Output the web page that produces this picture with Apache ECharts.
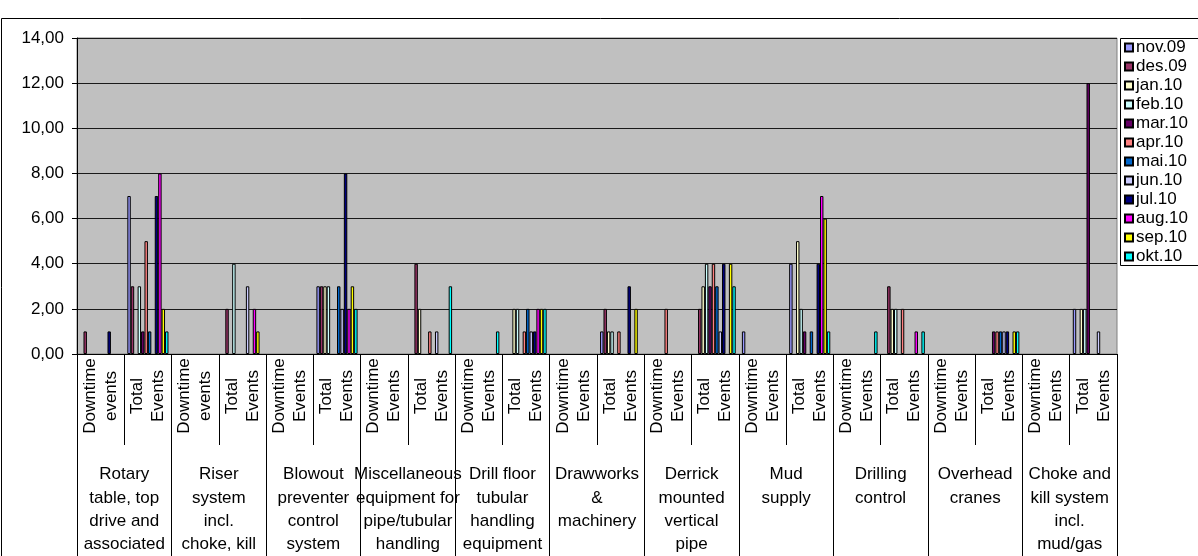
<!DOCTYPE html>
<html>
<head>
<meta charset="utf-8">
<script src="https://cdn.jsdelivr.net/npm/echarts@6/dist/echarts.min.js"></script>
<style>
  html, body { margin: 0; padding: 0; background: #ffffff; }
  #chart { width: 1198px; height: 556px; }
</style>
</head>
<body>
<div id="chart"></div>
<script>
// Equipment groups (lower label row)
const groupLabels = [
  'Rotary\ntable, top\ndrive and\nassociated',
  'Riser\nsystem\nincl.\nchoke, kill',
  'Blowout\npreventer\ncontrol\nsystem',
  'Miscellaneous\nequipment for\npipe/tubular\nhandling',
  'Drill floor\ntubular\nhandling\nequipment',
  'Drawworks\n&\nmachinery',
  'Derrick\nmounted\nvertical\npipe',
  'Mud\nsupply',
  'Drilling\ncontrol',
  'Overhead\ncranes',
  'Choke and\nkill system\nincl.\nmud/gas'
];

// Event-type categories (upper label row), two per group
const categories = [
  'Downtime\nevents', 'Total\nEvents',
  'Downtime\nevents', 'Total\nEvents',
  'Downtime\nEvents', 'Total\nEvents',
  'Downtime\nEvents', 'Total\nEvents',
  'Downtime\nEvents', 'Total\nEvents',
  'Downtime\nEvents', 'Total\nEvents',
  'Downtime\nEvents', 'Total\nEvents',
  'Downtime\nEvents', 'Total\nEvents',
  'Downtime\nEvents', 'Total\nEvents',
  'Downtime\nEvents', 'Total\nEvents',
  'Downtime\nEvents', 'Total\nEvents'
];

const months = ['nov.09', 'des.09', 'jan.10', 'feb.10', 'mar.10', 'apr.10',
                'mai.10', 'jun.10', 'jul.10', 'aug.10', 'sep.10', 'okt.10'];

// Monthly event counts, one value per category above
const nov09 = [0,7, 0,0, 0,3, 0,0, 0,0, 0,1, 0,0, 1,4, 0,0, 0,0, 0,2];
const des09 = [1,3, 0,2, 0,3, 0,4, 0,0, 0,2, 0,2, 0,0, 0,3, 0,0, 0,0];
const jan10 = [0,0, 0,0, 0,3, 0,2, 0,2, 0,1, 0,3, 0,5, 0,2, 0,0, 0,2];
const feb10 = [0,3, 0,4, 0,3, 0,0, 0,2, 0,1, 0,4, 0,2, 0,2, 0,0, 0,2];
const mar10 = [0,1, 0,0, 0,0, 0,0, 0,0, 0,0, 0,3, 0,1, 0,0, 0,1, 0,12];
const apr10 = [0,5, 0,0, 0,0, 0,1, 0,1, 0,1, 2,4, 0,0, 0,2, 0,1, 0,0];
const mai10 = [0,1, 0,0, 0,3, 0,0, 0,2, 0,0, 0,3, 0,1, 0,0, 0,1, 0,0];
const jun10 = [0,0, 0,3, 0,2, 0,1, 0,1, 0,0, 0,1, 0,0, 0,0, 0,1, 0,1];
const jul10 = [1,7, 0,0, 0,8, 0,0, 0,1, 0,3, 0,4, 0,4, 0,0, 0,1, 0,0];
const aug10 = [0,8, 0,2, 0,2, 0,0, 0,2, 0,0, 0,0, 0,7, 0,1, 0,0, 0,0];
const sep10 = [0,2, 0,1, 0,3, 0,0, 0,2, 0,2, 0,4, 0,6, 0,0, 0,1, 0,0];
const okt10 = [0,1, 0,0, 0,2, 0,3, 1,2, 0,0, 0,3, 0,1, 1,1, 0,1, 0,0];

const monthValues = [nov09, des09, jan10, feb10, mar10, apr10,
                     mai10, jun10, jul10, aug10, sep10, okt10];

const monthColors = ['#9999FF', '#993366', '#FFFFCC', '#CCFFFF', '#660066', '#FF8080',
                     '#0066CC', '#CCCCFF', '#000080', '#FF00FF', '#FFFF00', '#00FFFF'];

const FONT = "'Liberation Sans', Arial, sans-serif";

const series = months.map((name, i) => ({
  name: name,
  type: 'bar',
  data: monthValues[i].map(v => (v === 0 ? null : v)),
  barGap: '0%',
  barCategoryGap: '13%',
  itemStyle: { color: monthColors[i], borderColor: '#000000', borderWidth: 1 },
  emphasis: { disabled: true },
  animation: false
}));

const chart = echarts.init(document.getElementById('chart'), null, { renderer: 'canvas' });

chart.setOption({
  backgroundColor: '#ffffff',
  animation: false,
  textStyle: { fontFamily: FONT },
  graphic: [
    {
      type: 'rect', z: -10, silent: true,
      shape: { x: 1.5, y: 18.5, width: 1400, height: 800 },
      style: { fill: '#ffffff', stroke: '#000000', lineWidth: 1 }
    },
    {
      type: 'rect', z: 0, silent: true,
      shape: { x: 1120.5, y: 38.5, width: 200, height: 227 },
      style: { fill: '#ffffff', stroke: '#000000', lineWidth: 1 }
    }
  ],
  grid: {
    left: 77, right: 81, top: 38, bottom: 202,
    show: true,
    backgroundColor: '#C0C0C0',
    borderColor: '#808080',
    borderWidth: 1,
    outerBoundsMode: 'none',
    containLabel: false
  },
  legend: {
    orient: 'vertical',
    left: 1124,
    top: 38,
    padding: 0,
    itemGap: 0,
    itemWidth: 8,
    itemHeight: 8,
    icon: 'rect',
    selectedMode: false,
    data: months,
    textStyle: { fontFamily: FONT, fontSize: 17, color: '#000000', lineHeight: 19, padding: [0, 0, 0, -2] },
    z: 5
  },
  xAxis: [
    {
      type: 'category',
      data: categories,
      position: 'bottom',
      boundaryGap: true,
      axisLine: { show: true, lineStyle: { color: '#000000', width: 1 } },
      axisTick: { show: true, interval: 0, length: 91, lineStyle: { color: '#000000' } },
      axisLabel: {
        interval: 0,
        rotate: 90,
        align: 'center',
        verticalAlign: 'middle',
        margin: 42,
        fontFamily: FONT,
        fontSize: 17,
        lineHeight: 21,
        color: '#000000'
      },
      splitLine: { show: false }
    },
    {
      type: 'category',
      data: groupLabels,
      position: 'bottom',
      offset: 91,
      boundaryGap: true,
      axisLine: { show: true, lineStyle: { color: '#000000', opacity: 0 } },
      axisTick: { show: true, interval: 0, length: 120, lineStyle: { color: '#000000' } },
      axisLabel: {
        interval: 0,
        margin: 18,
        align: 'center',
        verticalAlign: 'top',
        fontFamily: FONT,
        fontSize: 17,
        lineHeight: 23.3,
        color: '#000000'
      },
      splitLine: { show: false }
    }
  ],
  yAxis: {
    type: 'value',
    min: 0,
    max: 14,
    interval: 2,
    axisLine: { show: true, lineStyle: { color: '#000000', width: 1 } },
    axisTick: { show: true, length: 5, lineStyle: { color: '#000000' } },
    axisLabel: {
      margin: 13,
      fontFamily: FONT,
      fontSize: 17,
      color: '#000000',
      formatter: v => v.toFixed(2).replace('.', ',')
    },
    splitLine: { show: true, lineStyle: { color: '#1a1a1a', width: 1 } }
  },
  series: series
});
</script>
</body>
</html>
